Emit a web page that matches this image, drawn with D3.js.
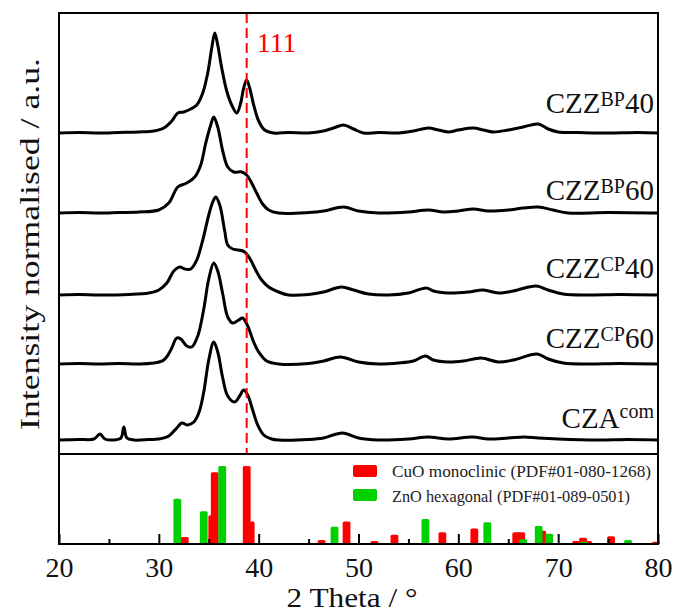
<!DOCTYPE html>
<html><head><meta charset="utf-8">
<script src="https://cdn.jsdelivr.net/npm/d3@7"></script>
<style>body{margin:0;background:#fff}svg{display:block}text{font-family:"Liberation Serif","Times New Roman",serif}</style>
</head><body><svg id="c" width="675" height="614"></svg>
<script>
// ---- data ----
const sampleNames = ["CZZ^BP40","CZZ^BP60","CZZ^CP40","CZZ^CP60","CZA^com"];
const sampleBase = ["CZZ","CZZ","CZZ","CZZ","CZA"];
const sampleSup = ["BP","BP","CP","CP","com"];
const sampleSuffix = ["40","60","40","60",""];
const stackOffsets = [321, 241, 159, 90, 14];

const czzBP40 = [[20,0],[22,0.5],[24,0],[26,0.5],[28,1],[29.5,2],[30.5,5],[31.3,12],[31.9,20],[32.5,21],[33.2,24],[33.8,28],[34.4,40],[34.9,60],[35.3,85],[35.6,100],[35.9,88],[36.3,65],[36.8,42],[37.3,28],[37.8,20],[38.2,30],[38.5,45],[38.8,53],[39.1,45],[39.5,28],[40.0,12],[40.6,3],[41.5,0],[43,0.5],[45,0],[46.5,2],[47.5,5],[48.5,8],[49.5,4],[50.5,0],[52,0.5],[54,0],[55.5,2],[57,5],[58,3],[59,1],[60,3],[61.5,5],[62.5,3],[63.5,1],[65,3],[66.5,6],[68,9],[69,4],[70,1],[72,0.5],[75,0],[78,0.5],[80,0]];
const czzBP60 = [[20,0],[22,0.5],[24,0],[26,0.5],[28,1],[30,3],[31,10],[31.9,26],[32.8,30],[33.6,36],[34.2,48],[34.7,70],[35.2,88],[35.5,96],[35.9,86],[36.4,62],[36.9,46],[37.5,41],[38.3,41],[38.8,38],[39.3,30],[39.8,20],[40.4,9],[41,3],[42,0],[45,0.5],[46.5,2],[48.5,6],[50,2],[52,0],[55,1],[57,3],[58.5,1],[60,2],[61.5,4],[63,2],[65,3],[66.5,5],[68,6],[69.5,3],[71,0],[75,0.5],[80,0]];
const czzCP40 = [[20,0],[22,0.5],[24,0],[27,0.5],[29,2],[30,5],[30.8,12],[31.5,24],[32.1,28],[32.6,26],[33.2,26],[33.8,35],[34.4,55],[35.0,80],[35.4,93],[35.7,98],[36.1,90],[36.6,64],[36.9,50],[37.4,46],[38.0,45],[38.6,43],[39.2,35],[39.7,25],[40.3,15],[41,8],[42,3],[43,0],[45,0.5],[46.5,3],[48.3,8],[49.5,5],[51,1],[53,0],[55,2],[56.8,7],[57.5,4],[59,2],[61,3],[62.5,5],[64,2],[65.5,4],[67.8,9],[69,5],[70.5,1],[73,0],[76,0.5],[80,0]];
const czzCP60 = [[20,0],[22,0.5],[24,0],[26,0.5],[28,0],[29.5,1],[30.5,4],[31.2,14],[31.8,26],[32.2,25],[32.8,18],[33.3,17],[33.9,28],[34.5,55],[35.0,85],[35.5,101],[35.9,93],[36.4,70],[36.9,47],[37.4,41],[38.0,44],[38.4,46],[38.9,38],[39.5,22],[40.0,12],[40.8,3],[42,0],[45,0.5],[46.5,3],[48.2,7],[50,2],[52,0],[54,1],[55.5,3],[56.7,8],[57.5,4],[59,2],[60.5,3],[62.3,6],[64,2],[65.5,4],[67.9,10],[69,5],[70.5,1],[73,0],[76,0.5],[80,0]];
const czaCom = [[20,0],[22,0.5],[23.5,1],[24.1,6],[24.6,1],[25.5,0],[26.2,2],[26.5,13],[26.8,2],[27.5,0],[29,0.5],[30,1],[31,4],[31.8,12],[32.3,17],[32.9,15],[33.5,18],[34.0,27],[34.5,48],[35.0,80],[35.5,98],[35.9,88],[36.4,62],[36.9,44],[37.6,38],[38.1,44],[38.5,50],[38.9,45],[39.4,30],[39.9,15],[40.5,5],[41.3,1],[42,0],[45,0.5],[46.5,2],[48.4,7],[50,2],[52,0],[55,1],[57,3],[59,1],[61.4,3],[63,1],[65,2],[66.6,3],[68,2],[70,1],[74,0],[77,0.5],[80,0]];
const traces = [czzBP40, czzBP60, czzCP40, czzCP60, czaCom];

// reference patterns: [2theta, relative intensity %]
const cuoRefs = [[32.6,9],[35.35,37],[35.6,92],[38.8,100],[39.2,29],[46.3,5],[48.8,29],[51.6,4],[53.6,12],[58.4,15],[61.6,20],[65.8,15],[66.3,15],[68.4,17],[71.8,4],[72.5,8],[73.0,4],[75.3,10],[79.8,3]];
const znoRefs = [[31.85,58],[34.5,42],[36.35,100],[47.6,22],[56.7,32],[62.9,28],[66.5,6],[68.05,23],[69.1,13],[72.6,3],[77.0,5]];
const legendLabels = ["CuO monoclinic (PDF#01-080-1268)","ZnO hexagonal (PDF#01-089-0501)"];
const xMajorTicks = [20,30,40,50,60,70,80];
const xMinorTicks = [25,35,45,55,65,75];
const markerAngle = 38.8;
const markerLabel = "111";

// ---- layout ----
const svg = d3.select("#c");
const L = 59, R = 658, T = 13, MID = 454, B = 544;
const x = d3.scaleLinear().domain([20,80]).range([L,R]);
const yT = d3.scaleLinear().domain([0,441]).range([MID,T]);
const yB = d3.scaleLinear().domain([0,100]).range([B,466]);

// traces
const line = d3.line().x(d=>x(d[0])).curve(d3.curveCatmullRom.alpha(0.5));
traces.forEach((tr,i)=>{
  svg.append("path").attr("fill","none").attr("stroke","#000").attr("stroke-width",3)
    .attr("stroke-linejoin","round")
    .attr("d", line.y(d=>yT(d[1]+stackOffsets[i]))(tr));
});

// bars
const bw = 0.78;
svg.append("g").selectAll("rect").data(cuoRefs).join("rect")
  .attr("x",d=>x(d[0]-bw/2)).attr("width",x(bw)-x(0))
  .attr("y",d=>yB(d[1])).attr("height",d=>B-yB(d[1]))
  .attr("rx",1.5).attr("fill","#ff0000");
svg.append("g").selectAll("rect").data(znoRefs).join("rect")
  .attr("x",d=>x(d[0]-bw/2)).attr("width",x(bw)-x(0))
  .attr("y",d=>yB(d[1])).attr("height",d=>B-yB(d[1]))
  .attr("rx",1.5).attr("fill","#00d000");

// marker line
svg.append("line").attr("x1",x(markerAngle)).attr("x2",x(markerAngle)).attr("y1",T).attr("y2",MID)
  .attr("stroke","#ff0000").attr("stroke-width",2).attr("stroke-dasharray","10,5");
svg.append("text").attr("x",x(markerAngle)+10).attr("y",52).attr("fill","#ff0000")
  .attr("font-size",28).text(markerLabel);

// sample labels
const labelY = [113,200,278,348,428];
sampleNames.forEach((n,i)=>{
  const t = svg.append("text").attr("x",654).attr("y",labelY[i]).attr("text-anchor","end").attr("font-size",29).attr("fill","#111");
  t.append("tspan").text(sampleBase[i]);
  t.append("tspan").attr("font-size",20).attr("dy",i===4?-10:-7).text(sampleSup[i]);
  if(sampleSuffix[i]) t.append("tspan").attr("dy",7).text(sampleSuffix[i]);
});

// legend
const legColors = ["#ff0000","#00d000"];
legendLabels.forEach((lab,i)=>{
  svg.append("rect").attr("x",353).attr("y",465+i*24).attr("width",24).attr("height",12).attr("rx",2).attr("fill",legColors[i]);
  svg.append("text").attr("x",392).attr("y",477+i*25).attr("font-size",17).attr("fill","#222")
    .attr("textLength", i===0?259:238).attr("lengthAdjust","spacingAndGlyphs").text(lab);
});

// frame
svg.append("rect").attr("x",L).attr("y",T).attr("width",R-L).attr("height",B-T)
  .attr("fill","none").attr("stroke","#000").attr("stroke-width",2);
svg.append("line").attr("x1",L).attr("x2",R).attr("y1",MID).attr("y2",MID).attr("stroke","#000").attr("stroke-width",2);

// axis
const ax = svg.append("g").attr("transform",`translate(0,${B})`)
  .call(d3.axisBottom(x).tickValues(xMajorTicks).tickSizeInner(-10).tickSizeOuter(0).tickPadding(13).tickFormat(d3.format("d")));
ax.select(".domain").remove();
ax.selectAll("line").attr("stroke","#000").attr("stroke-width",2);
ax.selectAll("text").attr("font-size",28).attr("fill","#111").style("font-family","Liberation Serif");
svg.append("g").attr("transform",`translate(0,${B})`)
  .call(d3.axisBottom(x).tickValues(xMinorTicks).tickSizeInner(-5).tickSizeOuter(0).tickFormat(""))
  .call(g=>{g.select(".domain").remove(); g.selectAll("line").attr("stroke","#000").attr("stroke-width",2);});

// titles
svg.append("text").attr("x",352).attr("y",607).attr("text-anchor","middle").attr("font-size",28).attr("fill","#111")
  .attr("textLength",131).attr("lengthAdjust","spacingAndGlyphs").text("2 Theta / °");
svg.append("text").attr("transform","translate(39,244) rotate(-90)").attr("text-anchor","middle").attr("font-size",27).attr("fill","#111")
  .attr("textLength",372).attr("lengthAdjust","spacingAndGlyphs").text("Intensity normalised / a.u.");
</script></body></html>
